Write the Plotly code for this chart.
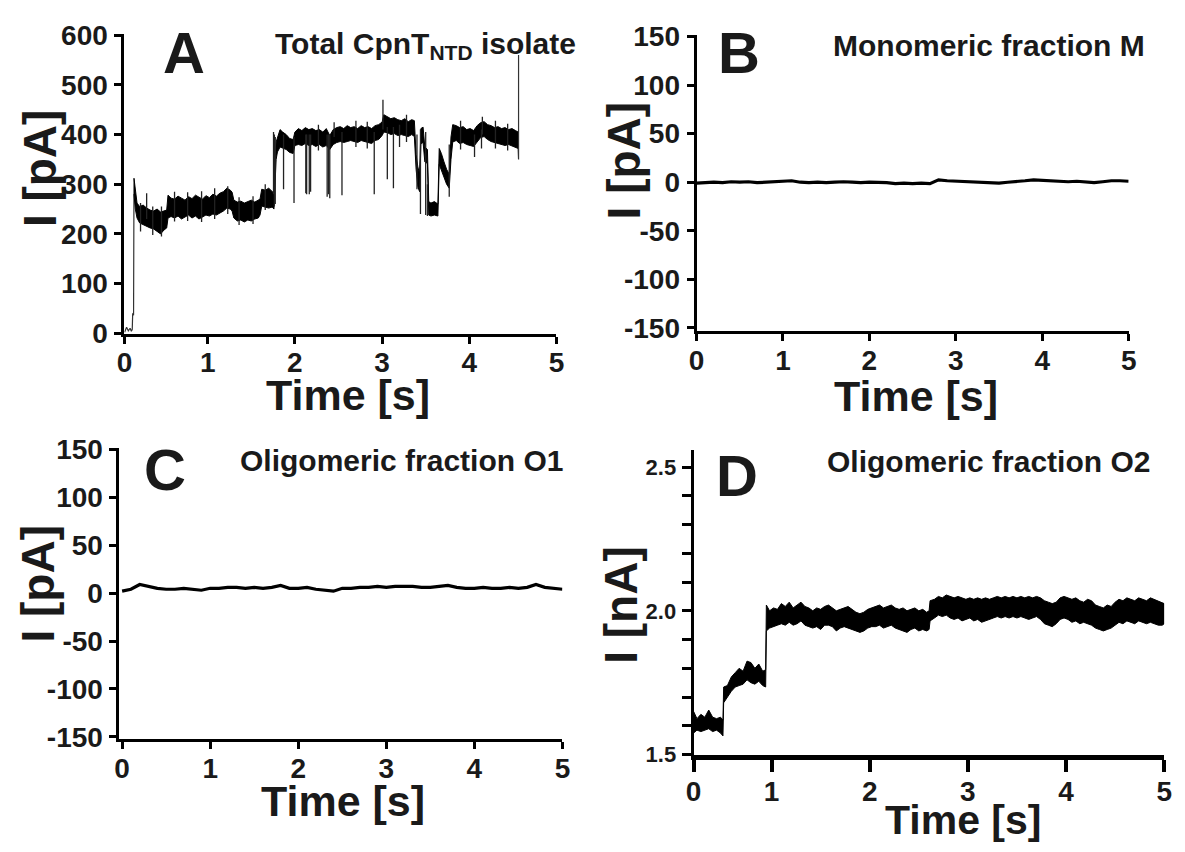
import plotly.graph_objects as go

W, H = 1185, 852
FONT = "Liberation Sans, Arial, Helvetica, sans-serif"
INK = "#1a1a1a"

# ---------------- Panel A : Total CpnT_NTD isolate (pA) ----------------
a_init_t = [0.047, 0.07, 0.09, 0.11, 0.125, 0.135, 0.14, 0.15, 0.155]
a_init_v = [2, 12, 5, 10, 4, 8, 40, 36, 312]

a_t = [0.155, 0.17, 0.19, 0.22, 0.26, 0.30, 0.34, 0.38, 0.42, 0.46, 0.50, 0.53,
       0.545, 0.58, 0.62, 0.66, 0.70, 0.74, 0.78, 0.82, 0.86, 0.90, 0.94, 0.98,
       1.02, 1.06, 1.10, 1.14, 1.18, 1.22, 1.26, 1.28, 1.30, 1.34, 1.38, 1.42,
       1.46, 1.50, 1.54, 1.58, 1.60,
       1.62, 1.66, 1.70, 1.74, 1.76,
       1.785, 1.80, 1.83, 1.86, 1.90, 1.94, 1.98, 2.00, 2.04, 2.08, 2.12, 2.16,
       2.20, 2.24, 2.28, 2.32, 2.36, 2.40, 2.44, 2.48, 2.52, 2.56, 2.60, 2.64,
       2.68, 2.72, 2.76, 2.80, 2.84, 2.88, 2.92, 2.96, 3.00, 3.02, 3.06, 3.10,
       3.14, 3.18, 3.22, 3.26, 3.30, 3.34, 3.37,
       3.39, 3.41, 3.43, 3.445, 3.47, 3.49, 3.52, 3.535, 3.56, 3.60, 3.64,
       3.655, 3.68, 3.71, 3.74, 3.77, 3.79,
       3.81, 3.85, 3.89, 3.93, 3.97, 4.01, 4.05, 4.09, 4.13, 4.17, 4.21, 4.25,
       4.29, 4.33, 4.37, 4.41, 4.45, 4.49, 4.53, 4.56]
a_hi = [312, 290, 262, 255, 258, 252, 248, 246, 250, 244, 247, 248,
        278, 272, 270, 276, 272, 268, 275, 271, 278, 274, 270, 277,
        273, 280, 276, 282, 285, 292, 288, 284, 268, 264, 266, 262,
        265, 268, 264, 268, 270,
        290, 288, 292, 286, 282,
        385, 395, 410, 405, 400, 392, 390, 405, 412, 408, 414, 410,
        412, 408, 410, 405, 412, 398, 410, 414, 416, 412, 418, 414,
        416, 412, 418, 414, 416, 412, 418, 420, 425, 440, 436, 432,
        434, 430, 428, 432, 426, 430, 428,
        360, 335, 320, 412, 415, 375, 370, 265, 262, 265, 260,
        372, 362, 345, 330, 320, 395,
        420, 418, 414, 416, 410, 412, 408, 418, 424, 426, 420, 418,
        414, 416, 412, 414, 410, 412, 408, 405]
a_lo = [280, 250, 232, 222, 218, 215, 212, 210, 205, 200, 208, 212,
        232, 235, 232, 236, 230, 234, 238, 232, 236, 230, 234, 238,
        236, 240, 238, 242, 246, 252, 250, 246, 232, 226, 228, 224,
        228, 226, 230, 232, 238,
        256, 254, 252, 254, 250,
        350, 365, 375, 372, 370, 364, 362, 378, 380, 378, 382, 378,
        380, 376, 380, 375, 378, 370, 380, 384, 386, 384, 386, 388,
        386, 384, 388, 386, 384, 382, 388, 390, 398, 405, 404, 400,
        402, 398, 400, 398, 396, 400, 396,
        330, 295, 285, 380, 385, 345, 342, 238, 236, 238, 236,
        340, 330, 315, 300, 292, 350,
        385, 388, 382, 384, 380, 378, 376, 386, 394, 396, 390, 386,
        384, 382, 380, 378, 380, 376, 374, 372]

# open / closing events and noise spikes (time, bottom, top) in pA
a_spk_t = [0.23, 0.30, 0.37, 0.47, 0.62, 0.77, 0.93, 1.08, 1.23, 1.36, 1.52, 1.66,
           1.755, 1.765, 1.775, 1.87, 1.99, 2.125, 2.135, 2.165, 2.18,
           2.27, 2.37, 2.385, 2.40, 2.45, 2.54, 2.70, 2.83, 2.91, 3.01, 3.06,
           3.13, 3.20, 3.28, 3.40, 3.44, 3.50, 3.52, 3.77, 3.90, 4.06, 4.14,
           4.15, 4.30, 4.44]
a_spk_lo = [205, 230, 198, 195, 225, 226, 224, 230, 240, 218, 220, 248,
            280, 255, 260, 290, 262, 282, 280, 280, 285,
            368, 275, 280, 272, 395, 278, 375, 372, 280, 410, 310,
            292, 375, 385, 290, 240, 238, 236, 275, 370, 355, 372,
            400, 372, 368]
a_spk_hi = [262, 282, 255, 255, 285, 284, 286, 292, 296, 274, 276, 300,
            405, 400, 395, 400, 395, 400, 400, 400, 400,
            420, 400, 400, 400, 425, 405, 428, 426, 405, 470, 415,
            415, 420, 440, 400, 410, 405, 300, 380, 428, 400, 410,
            436, 428, 422]

a_end_t = [4.56, 4.565, 4.565]
a_end_v = [372, 350, 560]

# ---------------- Panel B : Monomeric fraction M (pA) ----------------
b_t = [0.0, 0.1, 0.2, 0.3, 0.4, 0.5, 0.6, 0.7, 0.8, 0.9,
       1.0, 1.1, 1.2, 1.3, 1.4, 1.5, 1.6, 1.7, 1.8, 1.9,
       2.0, 2.1, 2.2, 2.3, 2.4, 2.5, 2.6, 2.7, 2.8, 2.9,
       3.0, 3.1, 3.2, 3.3, 3.4, 3.5, 3.6, 3.7, 3.8, 3.9,
       4.0, 4.1, 4.2, 4.3, 4.4, 4.5, 4.6, 4.7, 4.8, 4.9, 5.0]
b_v = [-1.0, -0.5, 0.0, -0.5, 0.5, 0.0, 0.5, -0.5, 0.0, 0.5,
       1.0, 1.5, 0.0, -0.5, 0.0, -0.5, 0.0, 0.5, 0.0, -0.5,
       0.0, 0.0, -0.5, -1.5, -1.0, -1.5, -1.0, -1.5, 2.5, 1.5,
       1.0, 0.5, 0.0, 0.0, -0.5, -1.0, 0.0, 0.5, 1.5, 2.5,
       2.0, 1.5, 1.0, 0.5, 1.0, 0.0, -0.5, 0.5, 1.5, 1.5, 1.0]

# ---------------- Panel C : Oligomeric fraction O1 (pA) ----------------
c_t = b_t
c_v = [2, 4, 9, 7, 5, 4, 4, 5, 4, 3,
       5, 5, 6, 6, 5, 6, 5, 6, 8, 5,
       5, 6, 4, 3, 2, 5, 5, 6, 6, 7,
       6, 7, 7, 7, 6, 6, 7, 8, 6, 5,
       5, 6, 5, 5, 6, 5, 6, 9, 6, 5, 4]

# ---------------- Panel D : Oligomeric fraction O2 (nA) ----------------
d_t = [0.206, 0.24, 0.28, 0.32, 0.36, 0.40, 0.44, 0.48, 0.505,
       0.512, 0.55, 0.59, 0.63, 0.67, 0.71, 0.75, 0.79, 0.83, 0.87, 0.91, 0.94,
       0.947, 0.98,
       1.02, 1.06, 1.10, 1.14, 1.18, 1.22, 1.26, 1.30, 1.34, 1.38,
       1.42, 1.46, 1.50, 1.54, 1.58, 1.62, 1.66, 1.70, 1.74, 1.78,
       1.82, 1.86, 1.90, 1.94, 1.98, 2.02, 2.06, 2.10, 2.14, 2.18,
       2.22, 2.26, 2.30, 2.34, 2.38, 2.42, 2.46, 2.50, 2.54, 2.58,
       2.605,
       2.615,
       2.66, 2.70, 2.74, 2.78, 2.82, 2.86, 2.90, 2.94, 2.98, 3.02,
       3.06, 3.10, 3.14, 3.18, 3.22, 3.26, 3.30, 3.34, 3.38, 3.42,
       3.46, 3.50, 3.54, 3.58, 3.62, 3.66, 3.70, 3.74, 3.78, 3.82,
       3.86, 3.90, 3.94, 3.98, 4.02, 4.06, 4.10, 4.14, 4.18, 4.22,
       4.26, 4.30, 4.34, 4.38, 4.42, 4.46, 4.50, 4.54, 4.58, 4.62,
       4.66, 4.70, 4.74, 4.78, 4.82, 4.86, 4.90, 4.94, 4.98,
       5.00]
d_hi = [1.650, 1.625, 1.640, 1.630, 1.655, 1.630, 1.625, 1.630, 1.620,
        1.735, 1.740, 1.770, 1.785, 1.800, 1.790, 1.825, 1.820, 1.800, 1.815, 1.790, 1.795,
        2.020, 2.000,
        2.010, 2.005, 2.025, 2.015, 2.030, 2.010, 2.020, 2.030, 2.015, 2.010,
        2.000, 2.010, 2.005, 2.015, 2.020, 2.010, 2.000, 2.005, 2.010, 2.015,
        2.005, 1.995, 1.990, 1.995, 2.005, 2.010, 2.015, 2.020, 2.010, 2.015,
        2.020, 2.010, 2.005, 2.010, 2.000, 2.005, 2.010, 2.000, 2.005, 1.995,
        2.000,
        2.035,
        2.040, 2.050, 2.045, 2.055, 2.050, 2.045, 2.050, 2.045, 2.040, 2.045,
        2.040, 2.045, 2.040, 2.045, 2.040, 2.045, 2.050, 2.045, 2.050, 2.045,
        2.050, 2.045, 2.050, 2.045, 2.050, 2.045, 2.050, 2.045, 2.035, 2.030,
        2.025, 2.030, 2.045, 2.050, 2.045, 2.040, 2.045, 2.035, 2.030, 2.040,
        2.035, 2.020, 2.015, 2.010, 2.020, 2.015, 2.030, 2.040, 2.035, 2.045,
        2.040, 2.035, 2.045, 2.040, 2.035, 2.045, 2.040, 2.035, 2.030,
        2.025]
d_lo = [1.575, 1.585, 1.580, 1.585, 1.590, 1.580, 1.585, 1.575, 1.565,
        1.680, 1.700, 1.720, 1.735, 1.740, 1.745, 1.760, 1.750, 1.745, 1.755, 1.740, 1.735,
        1.930, 1.940,
        1.945, 1.950, 1.955, 1.950, 1.960, 1.950, 1.955, 1.965, 1.950, 1.945,
        1.940, 1.945, 1.935, 1.950, 1.950, 1.945, 1.930, 1.940, 1.945, 1.940,
        1.935, 1.930, 1.925, 1.930, 1.940, 1.945, 1.945, 1.950, 1.940, 1.945,
        1.950, 1.940, 1.935, 1.930, 1.925, 1.935, 1.940, 1.930, 1.935, 1.930,
        1.935,
        1.965,
        1.975, 1.985, 1.980, 1.985, 1.975, 1.970, 1.975, 1.965, 1.970, 1.975,
        1.965, 1.970, 1.960, 1.965, 1.970, 1.975, 1.980, 1.975, 1.980, 1.975,
        1.980, 1.975, 1.980, 1.975, 1.970, 1.975, 1.980, 1.970, 1.955, 1.950,
        1.945, 1.955, 1.970, 1.975, 1.970, 1.960, 1.965, 1.955, 1.960, 1.955,
        1.950, 1.940, 1.935, 1.930, 1.935, 1.940, 1.950, 1.960, 1.955, 1.965,
        1.960, 1.955, 1.965, 1.960, 1.955, 1.960, 1.955, 1.950, 1.950,
        1.955]

# ---------------- tick labels ----------------
x_ticks = ["0", "1", "2", "3", "4", "5"]
pa_ticks_a = [0, 100, 200, 300, 400, 500, 600]
pa_ticks_bc = [-150, -100, -50, 0, 50, 100, 150]
pa_text_bc = ["-150", "-100", "-50", "0", "50", "100", "150"]
na_ticks = [1.5, 1.6, 1.7, 1.8, 1.9, 2.0, 2.1, 2.2, 2.3, 2.4, 2.5]
na_text = ["1.5", "", "", "", "", "2.0", "", "", "", "", "2.5"]

panel_titles = ["Total CpnT<sub>NTD</sub> isolate", "Monomeric fraction M",
                "Oligomeric fraction O1", "Oligomeric fraction O2"]
panel_letters = ["A", "B", "C", "D"]

# ---------------- figure ----------------
fig = go.Figure()


def band(t, hi, lo, xa, ya):
    fig.add_trace(go.Scatter(x=list(t) + list(t)[::-1], y=list(hi) + list(lo)[::-1],
                             mode="lines", fill="toself", fillcolor="black",
                             line=dict(color="black", width=1),
                             xaxis=xa, yaxis=ya, hoverinfo="skip"))


# A
fig.add_trace(go.Scatter(x=a_init_t, y=a_init_v, mode="lines",
                         line=dict(color="#333", width=1.2), xaxis="x", yaxis="y"))
band(a_t, a_hi, a_lo, "x", "y")
sx, sy = [], []
for t, lo, hi in zip(a_spk_t, a_spk_lo, a_spk_hi):
    sx += [t, t, None]
    sy += [hi, lo, None]
fig.add_trace(go.Scatter(x=sx, y=sy, mode="lines", line=dict(color="#222", width=1.3),
                         xaxis="x", yaxis="y"))
fig.add_trace(go.Scatter(x=a_end_t, y=a_end_v, mode="lines",
                         line=dict(color="#333", width=1.2), xaxis="x", yaxis="y"))
# B
fig.add_trace(go.Scatter(x=b_t, y=b_v, mode="lines", line=dict(color="black", width=3.2),
                         xaxis="x2", yaxis="y2"))
# C
fig.add_trace(go.Scatter(x=c_t, y=c_v, mode="lines", line=dict(color="black", width=3.2),
                         xaxis="x3", yaxis="y3"))
# D
band(d_t, d_hi, d_lo, "x4", "y4")


def xdom(a, b):
    return [a / W, b / W]


def ydom(top, bottom):
    return [1 - bottom / H, 1 - top / H]


tickfont = dict(family=FONT, size=28, color=INK, weight="bold")
base = dict(showline=True, linecolor="black", linewidth=3, ticks="outside",
            ticklen=7, tickwidth=3, tickcolor="black", showgrid=False,
            zeroline=False, tickfont=tickfont, fixedrange=True)
xb = dict(base, ticklabelstandoff=-5)
yb = dict(base, ticklabelstandoff=1)

fig.update_layout(
    width=W, height=H, margin=dict(l=0, r=0, t=0, b=0),
    paper_bgcolor="white", plot_bgcolor="white", showlegend=False,
    xaxis=dict(xb, domain=xdom(118, 556), range=[0.045, 5.0], anchor="y",
               tickvals=[0.045, 1, 2, 3, 4, 5], ticktext=x_ticks),
    yaxis=dict(yb, domain=ydom(20.7, 331), range=[-1, 602.5], anchor="x",
               tickvals=pa_ticks_a),
    xaxis2=dict(xb, domain=xdom(698, 1136), range=[0, 5], anchor="y2",
                tickvals=[0, 1, 2, 3, 4, 5], ticktext=x_ticks),
    yaxis2=dict(yb, domain=ydom(21.7, 328.3), range=[-153.3, 151.6], anchor="x2",
                tickvals=pa_ticks_bc, ticktext=pa_text_bc),
    xaxis3=dict(xb, domain=xdom(113, 562), range=[-0.03, 5], anchor="y3",
                tickvals=[0, 1, 2, 3, 4, 5], ticktext=x_ticks),
    yaxis3=dict(yb, domain=ydom(449.3, 750.7), range=[-152.4, 151.4], anchor="x3",
                tickvals=pa_ticks_bc, ticktext=pa_text_bc),
    xaxis4=dict(xb, domain=xdom(695, 1172), range=[0.206, 5], anchor="y4",
                linewidth=5, tickwidth=4, ticklen=12, ticklabelstandoff=-4,
                tickvals=[0.206, 1, 2, 3, 4, 5], ticktext=x_ticks),
    yaxis4=dict(yb, domain=ydom(451.7, 767), range=[1.499, 2.558], anchor="x4",
                ticklen=9,
                tickvals=na_ticks, ticktext=na_text,
                tickfont=dict(family=FONT, size=22, color=INK, weight="bold")),
)


def ann(text, x, y, size, xanchor="center", angle=0):
    fig.add_annotation(text=text, x=x / W, y=1 - y / H, xref="paper", yref="paper",
                       xanchor=xanchor, yanchor="middle", showarrow=False,
                       textangle=angle,
                       font=dict(family=FONT, size=size, color=INK, weight="bold"))


# panel letters
for L, (x, y) in zip(panel_letters, [(178, 40), (741, 40), (159, 472), (739, 478)]):
    ann(L, x, y, 58)
# panel titles (right aligned)
for T, (x, y) in zip(panel_titles, [(578, 33), (1155, 33), (565, 462), (1160, 463)]):
    ann(T, x, y, 30, xanchor="right")
# x titles
for (x, y), s in zip([(345, 394), (920, 395), (340, 815), (968, 834)], [43, 43, 43, 41]):
    ann("Time [s]", x, y, s)
# y titles
for txt, (x, y) in zip(["I [pA]", "I [pA]", "I [pA]", "I [nA]"],
                       [(32, 160), (624, 152), (30, 590), (622, 612)]):
    ann(txt, x, y, 46, angle=-90)

fig.write_html("out.html", config={"displayModeBar": False},
               post_script="document.body.style.margin='0';")
